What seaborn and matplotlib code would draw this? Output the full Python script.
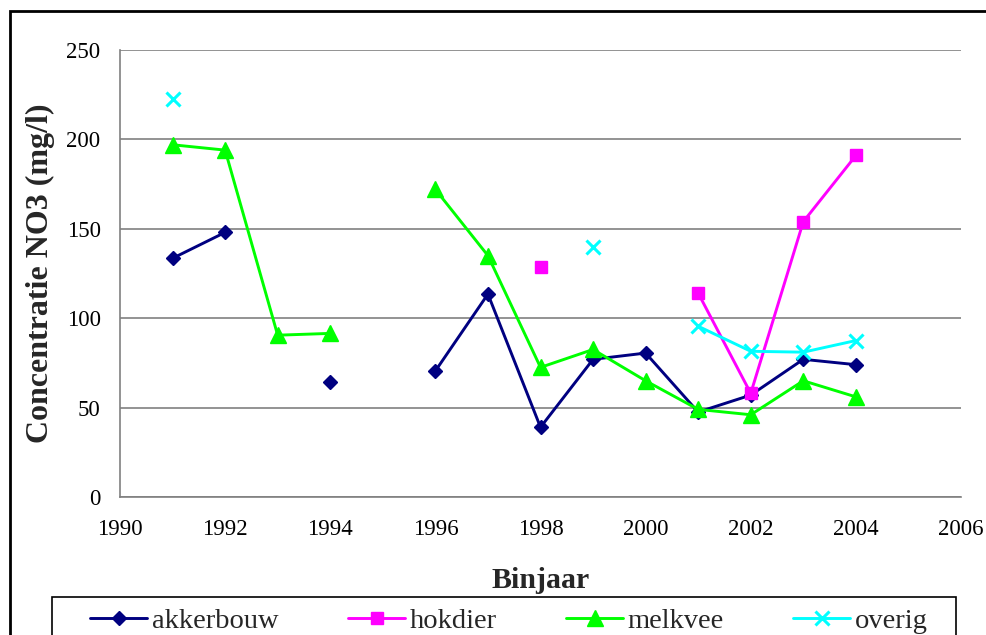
import numpy as np
import pandas as pd
import matplotlib
matplotlib.use("Agg")
import matplotlib.pyplot as plt
import seaborn as sns
from matplotlib.lines import Line2D
from matplotlib.patches import Rectangle

nan = np.nan

# data
years = list(range(1991, 2005))
akkerbouw = [133.5, 148, nan, 64.5, nan, 70.5, 113.5, 39, 77, 80.5, 47.5, 57, 77, 74]
hokdier = [nan, nan, nan, nan, nan, nan, nan, 128.5, nan, nan, 114, 58, 154, 191]
melkvee = [197, 194, 90.5, 91.5, nan, 172, 135, 72.5, 82.5, 65, 49, 46, 65, 56]
overig = [222.5, nan, nan, nan, nan, nan, nan, nan, 140, nan, 95.5, 81.5, 81, 87.5]

series_names = ["akkerbouw", "hokdier", "melkvee", "overig"]
series_values = [akkerbouw, hokdier, melkvee, overig]
colors = ["#000080", "#FF00FF", "#00FF00", "#00FFFF"]
markers = ["D", "s", "^", "x"]
msizes = [7.5, 9, 11, 9.5]

x_ticks = list(range(1990, 2007, 2))
y_ticks = [0, 50, 100, 150, 200, 250]

# long table with a segment id so gaps stay gaps
rows = []
for name, vals in zip(series_names, series_values):
    seg = 0
    prev_nan = True
    for yr, v in zip(years, vals):
        if np.isnan(v):
            prev_nan = True
            continue
        if prev_nan:
            seg += 1
        prev_nan = False
        rows.append({"serie": name, "jaar": yr, "no3": v, "seg": seg})
df = pd.DataFrame(rows)

sns.set_style("white")
plt.rcParams["font.family"] = ["Liberation Serif", "DejaVu Serif"]

fig = plt.figure(figsize=(9.87, 6.35), dpi=100)
ax = fig.add_axes([120 / 987, 1 - 497 / 635, (961 - 120) / 987, (497 - 50) / 635])

for name, col, mk, ms in zip(series_names, colors, markers, msizes):
    sub = df[df["serie"] == name]
    sns.lineplot(data=sub, x="jaar", y="no3", units="seg", estimator=None,
                 color=col, marker=mk, markersize=ms, markeredgecolor=col,
                 markeredgewidth=2.2 if mk == "x" else 1, linewidth=2.1, ax=ax,
                 legend=False)

ax.set_xlim(1990, 2006)
ax.set_ylim(0, 250)
ax.set_xticks(x_ticks)
ax.set_yticks(y_ticks)
ax.yaxis.grid(True, color="#808080", linewidth=1.2)
ax.set_axisbelow(True)
for s in ["top", "right"]:
    ax.spines[s].set_visible(False)
for s in ["left", "bottom"]:
    ax.spines[s].set_color("#808080")
    ax.spines[s].set_linewidth(1.2)
ax.tick_params(axis="both", direction="out", length=6, width=1.2, color="#808080",
               labelsize=16.5, labelcolor="black")
ax.tick_params(axis="y", pad=8)
ax.tick_params(axis="x", pad=10)
ax.set_xlabel("Binjaar", fontsize=21.5, fontweight="bold", labelpad=19)
ax.set_ylabel("Concentratie NO3 (mg/l)", fontsize=23, fontweight="bold", labelpad=8)

handles = [Line2D([], [], color=c, marker=m, markersize=s, markeredgecolor=c,
                  markeredgewidth=2.2 if m == "x" else 1, linewidth=2.1)
           for c, m, s in zip(colors, markers, msizes)]
leg = fig.legend(handles, series_names, loc="center", ncol=4,
                 bbox_to_anchor=(509 / 987, 1 - 621 / 635),
                 fontsize=20.5, frameon=False, handlelength=2.0,
                 handletextpad=0.15, columnspacing=2.45, borderaxespad=0)

# legend box (cut off at the bottom)
fig.patches.append(Rectangle((52 / 987, -0.05), (956 - 52) / 987, 0.05 + 1 - 597 / 635,
                             transform=fig.transFigure, fill=False,
                             edgecolor="black", linewidth=1.2))

# outer chart border (cut off at right and bottom)
fig.patches.append(Rectangle((10 / 987, -0.05), 1.05, 1.05 - 11 / 635,
                             transform=fig.transFigure, fill=False,
                             edgecolor="black", linewidth=2))

fig.savefig("out.png", dpi=100)
